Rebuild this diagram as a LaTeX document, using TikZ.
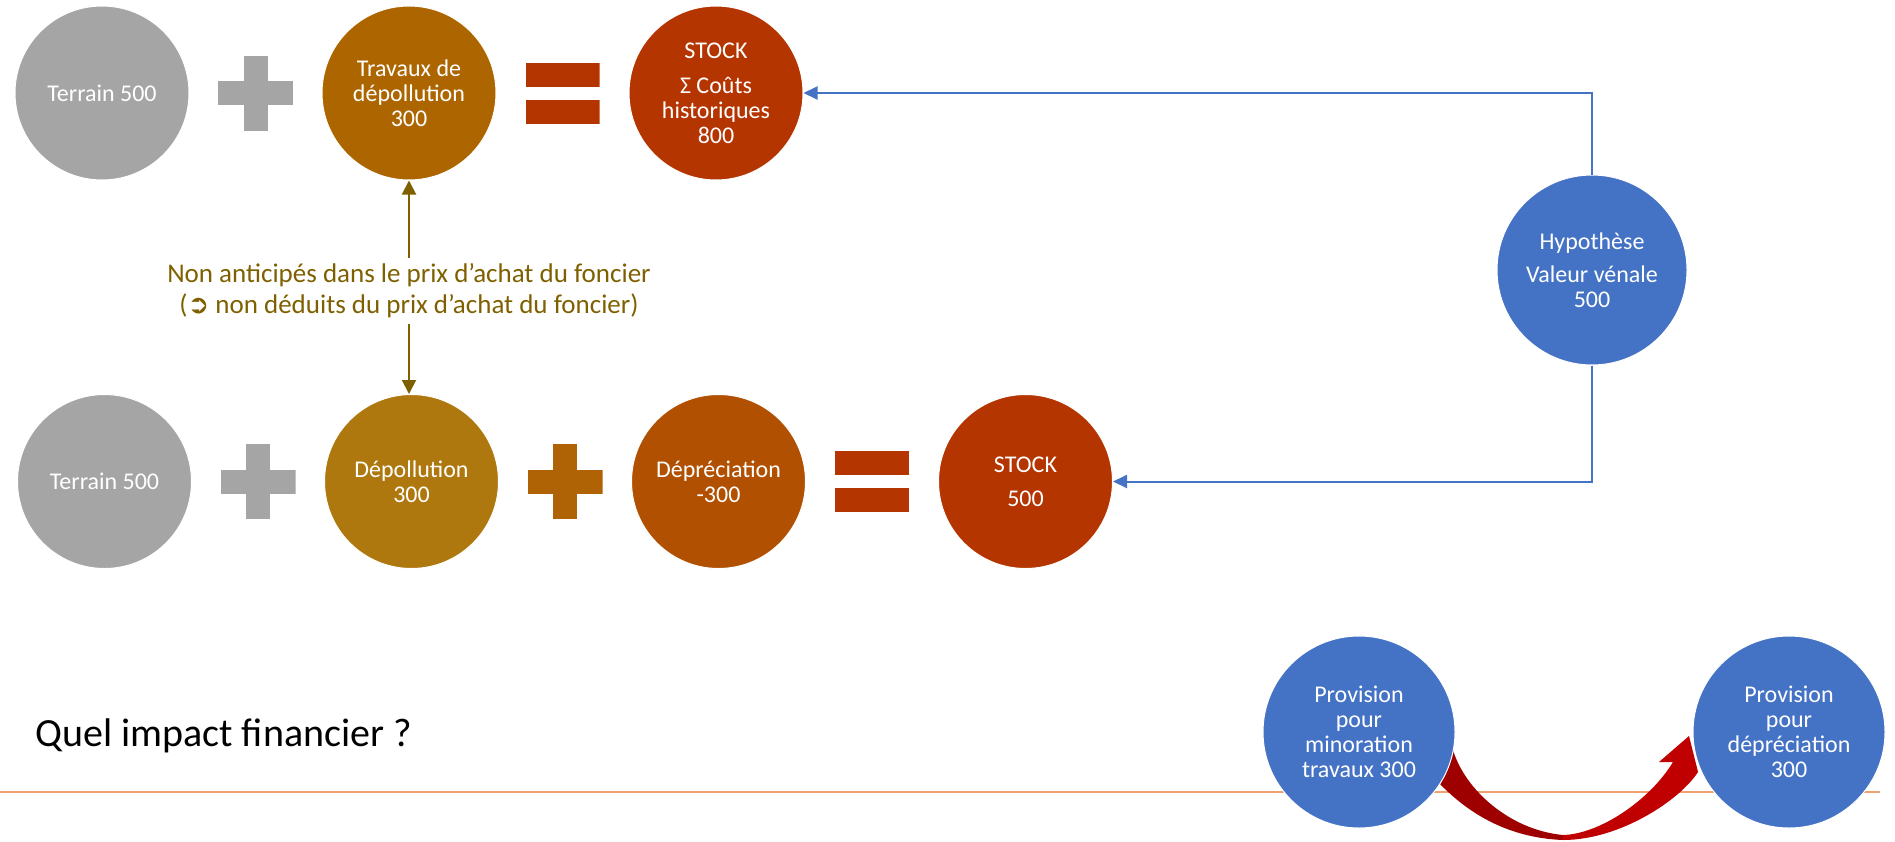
\documentclass[tikz,border=0pt]{standalone}
\usepackage{fontspec}
\setmainfont{Carlito}
\newfontfamily\symbfont{DejaVu Sans}
\usetikzlibrary{positioning,arrows.meta}
\definecolor{gris}{HTML}{A5A5A5}
\definecolor{ocre}{HTML}{AD6500}
\definecolor{brique}{HTML}{B43500}
\definecolor{moutarde}{HTML}{AE780E}
\definecolor{orange2}{HTML}{AF6304}
\definecolor{rouille}{HTML}{B05000}
\definecolor{bleu}{HTML}{4472C4}
\definecolor{brun}{HTML}{7F6000}
\definecolor{rougef}{HTML}{9E0000}
\definecolor{rouge}{HTML}{C00000}
\definecolor{filet}{RGB}{241,160,112}

\begin{document}
\begin{tikzpicture}[x=1pt,y=-1pt,node distance=153.5pt,
		rond/.style={circle,minimum size=174pt,inner sep=0pt,fill=#1,draw=white,line width=1pt,text=white,align=center,font=\fontsize{24}{25}\selectfont},
		plusop/.style={minimum size=75pt,inner sep=0pt,path picture={
			\fill[#1] ([xshift=-12pt]path picture bounding box.north) rectangle ([xshift=12pt]path picture bounding box.south);
			\fill[#1] ([yshift=12pt]path picture bounding box.west) rectangle ([yshift=-12pt]path picture bounding box.east);}},
		eqop/.style={minimum width=74pt,minimum height=61pt,inner sep=0pt,path picture={
			\fill[#1] (path picture bounding box.north west) rectangle ([yshift=-24pt]path picture bounding box.north east);
			\fill[#1] (path picture bounding box.south west) rectangle ([yshift=24pt]path picture bounding box.south east);}},
		brfleche/.style={draw=brun,line width=2pt,-{Triangle[length=14pt,width=14pt]}},
		blfleche/.style={draw=bleu,line width=2pt,-{Triangle[length=14pt,width=13pt]}}]
		\useasboundingbox (0,0) rectangle (1895,841);
		% premiere ligne
		\node[rond=gris] (t1) at (102,93) {Terrain 500};
		\node[plusop=gris,right of=t1] (pl1) {};
		\node[rond=ocre,right of=pl1] (d1) {Travaux de\\d\'epollution\\300};
		\node[eqop=brique,right of=d1] (eq1) {};
		\node[rond=brique,right of=eq1] (s1) {STOCK\\[10pt]Σ Co\^uts\\historiques\\800};
		% deuxieme ligne
		\node[rond=gris] (t2) at (104.5,481.5) {Terrain 500};
		\node[plusop=gris,right of=t2] (pl2) {};
		\node[rond=moutarde,right of=pl2] (d2) {D\'epollution\\300};
		\node[plusop=orange2,right of=d2] (pl3) {};
		\node[rond=rouille,right of=pl3] (dep2) {D\'epr\'eciation\\-300};
		\node[eqop=brique,right of=dep2] (eq2) {};
		\node[rond=brique,right of=eq2] (s2) {STOCK\\[9pt]500};
		\node[rond=bleu,minimum size=190pt] (hyp) at (1592,270) {Hypoth\`ese\\[8pt]Valeur v\'enale\\500};
		\node[text=brun,align=center,inner xsep=2pt,inner ysep=6pt,font=\fontsize{27}{31}\selectfont] (lbl) at (409,291)
			{Non anticip\'es dans le prix d'achat du foncier\\({\symbfont\fontsize{26}{31}\selectfont ➲} non d\'eduits du prix d'achat du foncier)};
		\draw[brfleche] (lbl.north) -- (lbl.north |- d1.south);
		\draw[brfleche] (lbl.south) -- (lbl.south |- d2.north);
		\draw[blfleche] (hyp.north) |- (s1.east);
		\draw[blfleche] (hyp.south) |- (s2.east);
		% bas de page
		\node[anchor=base west,inner sep=0pt,font=\fontsize{40}{48}\selectfont] (q) at (35,746) {Quel impact financier ?};
		\draw[filet,line width=2pt] (0,792) -- (1880,792);
		\fill[rougef] (1440,784) .. controls (1470,815) and (1510,838) .. (1563,840) -- (1563,835) .. controls (1510,830) and (1465,790) .. (1453,750) -- cycle;
		\fill[rouge] (1563,840) .. controls (1620,840) and (1680,800) .. (1698,772) -- (1689,736) -- (1659,762) -- (1673,762) .. controls (1650,800) and (1600,834) .. (1563,835) -- cycle;
		\node[rond=bleu,minimum size=192pt] (prov1) at (1359,732) {Provision\\pour\\minoration\\travaux 300};
		\node[rond=bleu,minimum size=192pt] (prov2) at (1789,732) {Provision\\pour\\d\'epr\'eciation\\300};
	\end{tikzpicture}
\end{document}
